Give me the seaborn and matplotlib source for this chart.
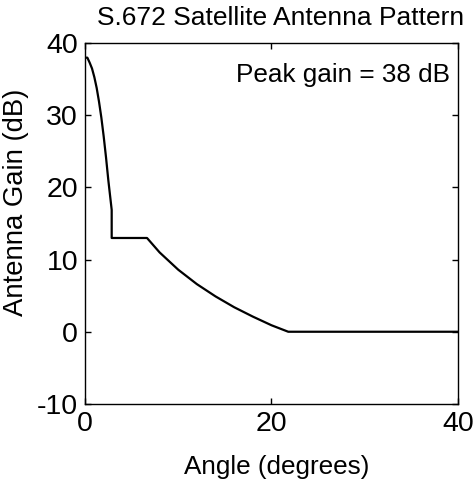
import matplotlib
matplotlib.use('Agg')
import matplotlib.pyplot as plt
import seaborn as sns
import pandas as pd

# ── Data ──────────────────────────────────────────────────
angle = [0.0, 0.25, 0.5, 0.75, 1.0, 1.25, 1.5, 1.75, 2.0, 2.25, 2.5, 2.86,
         2.86, 6.65, 8.0, 10.0, 12.0, 14.0, 16.0, 18.0, 20.0, 21.8, 30.0, 40.0]
gain = [38.0, 38.0, 37.3, 36.5, 35.3, 33.8, 31.9, 29.7, 27.1, 24.2, 21.0, 16.9,
        13.0, 13.0, 11.0, 8.6, 6.6, 4.9, 3.4, 2.1, 0.9, 0.0, 0.0, 0.0]
x_ticks = [0, 20, 40]
y_ticks = [-10, 0, 10, 20, 30, 40]

df = pd.DataFrame({'Angle': angle, 'Gain': gain})

sns.set_style('ticks')
plt.rcParams['font.family'] = ['Liberation Sans', 'DejaVu Sans']
plt.rcParams['xtick.direction'] = 'in'
plt.rcParams['ytick.direction'] = 'in'
plt.rcParams['axes.unicode_minus'] = False
plt.rcParams['text.color'] = 'black'
plt.rcParams['axes.labelcolor'] = 'black'

fig = plt.figure(figsize=(4.75, 4.86), dpi=100)
ax = fig.add_axes([0.179, 0.169, 0.785, 0.742])
sns.lineplot(data=df, x='Angle', y='Gain', color='black', linewidth=1.6,
             sort=False, estimator=None, ax=ax)

ax.set_xlim(0, 40)
ax.set_ylim(-10, 40)
ax.set_xticks(x_ticks)
ax.set_yticks(y_ticks)
ax.tick_params(labelsize=20.5, length=4, width=1, top=True, right=True,
               colors='black', pad=5)
for s in ax.spines.values():
    s.set_visible(True)
    s.set_color('black')
    s.set_linewidth(1)

ax.set_title('S.672 Satellite Antenna Pattern', fontsize=19, pad=13, x=0.524)
ax.set_xlabel('Angle (degrees)', fontsize=18.8)
ax.set_ylabel('Antenna Gain (dB)', fontsize=19.8)
ax.xaxis.set_label_coords(0.515, -0.141)
ax.yaxis.set_label_coords(-0.151, 0.56)
ax.text(0.979, 0.911, 'Peak gain = 38 dB', transform=ax.transAxes,
        ha='right', va='center', fontsize=18.8)

plt.savefig('out.png', dpi=100)
plt.close()
